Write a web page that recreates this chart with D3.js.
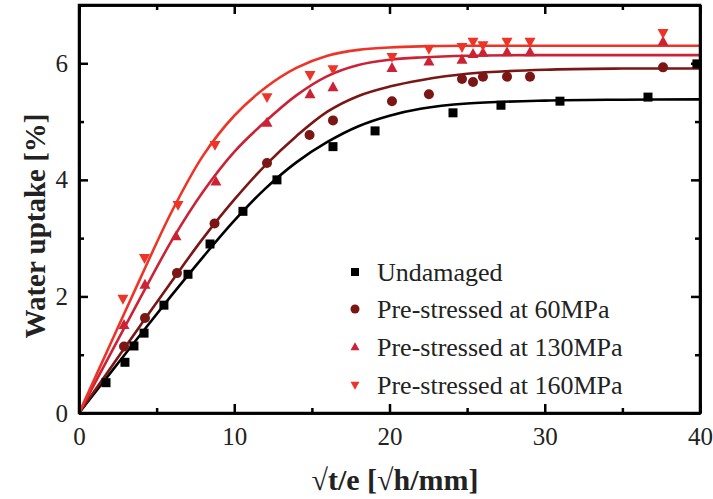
<!DOCTYPE html>
<html>
<head>
<meta charset="utf-8">
<script src="https://cdn.jsdelivr.net/npm/d3@7"></script>
<style>
html,body{margin:0;padding:0;background:#fff;}
svg{display:block;}
</style>
</head>
<body>
<svg id="chart" width="713" height="499"></svg>
<script>
// ---- data ----
const seriesNames = ["Undamaged", "Pre-stressed at 60MPa", "Pre-stressed at 130MPa", "Pre-stressed at 160MPa"];
const seriesColors = ["#000000", "#7a1614", "#cc2236", "#ee3426"];
const seriesSymbols = ["square", "circle", "triangleUp", "triangleDown"];

const undamagedX = [1.74, 2.96, 3.54, 4.19, 5.47, 7.02, 8.44, 10.56, 12.75, 16.36, 19.07, 24.09, 27.18, 30.98, 36.65, 39.8];
const undamagedY = [0.52, 0.87, 1.15, 1.37, 1.85, 2.38, 2.90, 3.46, 4.00, 4.57, 4.84, 5.15, 5.28, 5.35, 5.42, 5.99];

const ps60X = [2.90, 4.25, 6.31, 8.73, 12.11, 14.85, 16.36, 20.16, 22.54, 24.67, 25.38, 26.02, 27.57, 29.05, 37.62];
const ps60Y = [1.14, 1.63, 2.40, 3.25, 4.29, 4.77, 5.02, 5.35, 5.47, 5.73, 5.68, 5.77, 5.77, 5.77, 5.93];

const ps130X = [2.90, 4.25, 6.25, 8.82, 12.11, 14.88, 16.36, 20.16, 22.54, 24.67, 25.38, 26.02, 27.57, 29.05, 37.62];
const ps130Y = [1.51, 2.20, 3.03, 3.97, 4.98, 5.47, 5.59, 5.92, 6.03, 6.06, 6.16, 6.18, 6.19, 6.19, 6.37];

const ps160X = [2.83, 4.22, 6.38, 8.76, 12.11, 14.88, 16.36, 20.16, 22.54, 24.67, 25.38, 26.02, 27.57, 29.05, 37.62];
const ps160Y = [1.96, 2.66, 3.57, 4.60, 5.42, 5.80, 5.90, 6.11, 6.25, 6.28, 6.37, 6.31, 6.37, 6.37, 6.52];

// fitted curves
const fitX = [0, 2, 4, 6, 8, 10, 12, 14, 16, 18, 20, 22, 25, 30, 35, 40];
const fitUndamaged = [0, 0.68, 1.36, 2.03, 2.68, 3.30, 3.85, 4.30, 4.65, 4.92, 5.10, 5.22, 5.31, 5.36, 5.375, 5.38];
const fit60 = [0, 0.76, 1.52, 2.27, 3.00, 3.66, 4.25, 4.75, 5.17, 5.44, 5.60, 5.71, 5.82, 5.89, 5.91, 5.91];
const fit130 = [0, 1.00, 2.00, 2.97, 3.80, 4.48, 5.00, 5.45, 5.78, 5.97, 6.06, 6.10, 6.13, 6.14, 6.14, 6.14];
const fit160 = [0, 1.17, 2.34, 3.47, 4.42, 5.10, 5.58, 5.92, 6.13, 6.23, 6.27, 6.29, 6.30, 6.30, 6.30, 6.30];

const xMajorTicks = [0, 10, 20, 30, 40];
const xMinorTicks = [5, 15, 25, 35];
const yMajorTicks = [0, 2, 4, 6];
const yMinorTicks = [1, 3, 5, 7];

const xTitle = "\u221At/e [\u221Ah/mm]";
const yTitle = "Water uptake [%]";

// ---- layout ----
const svg = d3.select("#chart");
const L = 79, R = 700, T = 5, B = 413;
const x = d3.scaleLinear().domain([0, 40]).range([L, R]);
const y = d3.scaleLinear().domain([0, 7]).range([B, T]);
const font = "'Liberation Serif','Times New Roman',serif";

const pointsSets = [
  [undamagedX, undamagedY],
  [ps60X, ps60Y],
  [ps130X, ps130Y],
  [ps160X, ps160Y]
];
const fits = [fitUndamaged, fit60, fit130, fit160];

function symbolPath(kind, s) {
  const h = s / 2;
  if (kind === "square") return `M${-h},${-h}h${s}v${s}h${-s}Z`;
  if (kind === "circle") return d3.symbol(d3.symbolCircle, Math.PI * h * h)();
  if (kind === "triangleUp") { const th = s * 0.9; return `M0,${-th*0.6}L${h},${th*0.4}L${-h},${th*0.4}Z`; }
  if (kind === "triangleDown") { const th = s * 0.9; return `M0,${th*0.6}L${h},${-th*0.4}L${-h},${-th*0.4}Z`; }
}

// fitted lines
const line = d3.line().x(d => x(d[0])).y(d => y(d[1])).curve(d3.curveCatmullRom.alpha(0.5));
fits.forEach((f, i) => {
  svg.append("path")
    .attr("d", line(fitX.map((v, j) => [v, f[j]])))
    .attr("fill", "none")
    .attr("stroke", seriesColors[i])
    .attr("stroke-width", 2.6);
});

// points
const sizes = [9, 10, 11, 11];
pointsSets.forEach((ps, i) => {
  const g = svg.append("g");
  ps[0].forEach((xv, j) => {
    g.append("path")
      .attr("d", symbolPath(seriesSymbols[i], sizes[i]))
      .attr("transform", `translate(${x(xv)},${y(ps[1][j])})`)
      .attr("fill", seriesColors[i]);
  });
});

// axes (frame with inward ticks)
function styleAxis(g) {
  g.select(".domain").attr("stroke", "#000").attr("stroke-width", 2.5);
  g.selectAll(".tick line").attr("stroke", "#000").attr("stroke-width", 2.5);
  g.selectAll(".tick text").attr("font-family", font).attr("font-size", 25).attr("fill", "#222");
}
const gx = svg.append("g").attr("transform", `translate(0,${B})`)
  .call(d3.axisBottom(x).tickValues(xMajorTicks).tickSizeInner(-9).tickSizeOuter(0).tickPadding(14).tickFormat(d3.format("d")));
styleAxis(gx);
gx.selectAll(".tick text").attr("dy", "0.71em");
svg.append("g").attr("transform", `translate(0,${B})`)
  .call(d3.axisBottom(x).tickValues(xMinorTicks).tickSizeInner(-5).tickSizeOuter(0).tickFormat(""))
  .call(styleAxis);

svg.append("g").attr("transform", `translate(0,${T})`)
  .call(d3.axisTop(x).tickValues(xMajorTicks).tickSizeInner(-9).tickSizeOuter(0).tickFormat(""))
  .call(styleAxis);
svg.append("g").attr("transform", `translate(0,${T})`)
  .call(d3.axisTop(x).tickValues(xMinorTicks).tickSizeInner(-5).tickSizeOuter(0).tickFormat(""))
  .call(styleAxis);

const gy = svg.append("g").attr("transform", `translate(${L},0)`)
  .call(d3.axisLeft(y).tickValues(yMajorTicks).tickSizeInner(-9).tickSizeOuter(0).tickPadding(11).tickFormat(d3.format("d")));
styleAxis(gy);
svg.append("g").attr("transform", `translate(${L},0)`)
  .call(d3.axisLeft(y).tickValues(yMinorTicks).tickSizeInner(-5).tickSizeOuter(0).tickFormat(""))
  .call(styleAxis);

svg.append("g").attr("transform", `translate(${R},0)`)
  .call(d3.axisRight(y).tickValues(yMajorTicks).tickSizeInner(-9).tickSizeOuter(0).tickFormat(""))
  .call(styleAxis);
svg.append("g").attr("transform", `translate(${R},0)`)
  .call(d3.axisRight(y).tickValues(yMinorTicks).tickSizeInner(-5).tickSizeOuter(0).tickFormat(""))
  .call(styleAxis);

// full frame rectangle
svg.append("rect").attr("x", L).attr("y", T).attr("width", R - L).attr("height", B - T)
  .attr("fill", "none").attr("stroke", "#000").attr("stroke-width", 2.5);

// axis titles
svg.append("text").attr("x", 395).attr("y", 490).attr("text-anchor", "middle")
  .attr("font-family", font).attr("font-weight", "bold").attr("font-size", 30).attr("fill", "#222")
  .text(xTitle);
svg.append("text").attr("transform", `translate(45,226) rotate(-90)`).attr("text-anchor", "middle")
  .attr("font-family", font).attr("font-weight", "bold").attr("font-size", 29).attr("fill", "#222")
  .text(yTitle);

// legend
const legY = [272, 309, 347, 385];
const legend = svg.append("g");
seriesNames.forEach((name, i) => {
  legend.append("path")
    .attr("d", symbolPath(seriesSymbols[i], i === 0 ? 8 : 9))
    .attr("transform", `translate(355,${legY[i]})`)
    .attr("fill", seriesColors[i]);
  legend.append("text").attr("x", 377).attr("y", legY[i] + 9)
    .attr("font-family", font).attr("font-size", 26).attr("fill", "#222")
    .text(name);
});
</script>
</body>
</html>
